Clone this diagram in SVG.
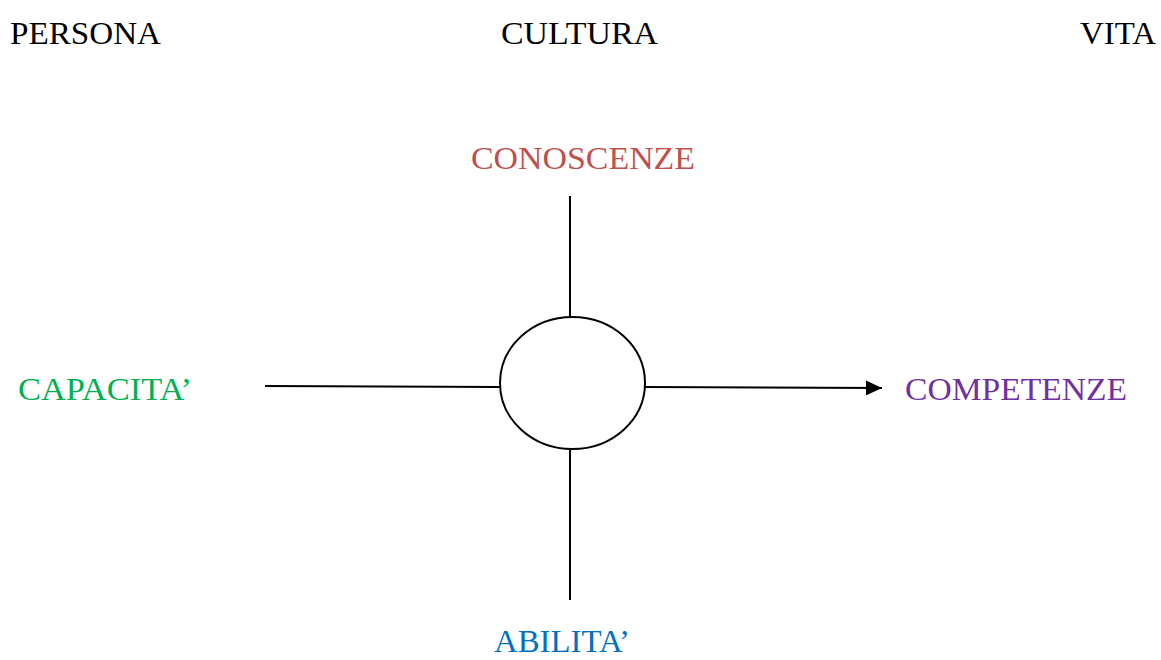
<svg xmlns="http://www.w3.org/2000/svg" width="1161" height="660" viewBox="0 0 1161 660">
<style>
text{font-family:"Liberation Serif","Times New Roman",serif;font-size:32px}
.ln{stroke:#000;stroke-width:2;fill:none}
</style>
<defs>
<marker id="ah" markerWidth="16" markerHeight="15" refX="16" refY="7.5" orient="auto" markerUnits="userSpaceOnUse" viewBox="0 0 16 15">
<path d="M0,0 L16,7.5 L0,15 Z" fill="#000"/>
</marker>
</defs>
<rect width="1161" height="660" fill="#fff"/>
<g id="persona"><text x="10" y="44" textLength="151" lengthAdjust="spacingAndGlyphs">PERSONA</text></g>
<g id="cultura"><text x="501" y="44" textLength="157" lengthAdjust="spacingAndGlyphs">CULTURA</text></g>
<g id="vita"><text x="1080" y="44" textLength="76" lengthAdjust="spacingAndGlyphs">VITA</text></g>
<g id="conoscenze"><text x="471" y="169" fill="#c0504d" textLength="224" lengthAdjust="spacingAndGlyphs">CONOSCENZE</text></g>
<g id="capacita"><text x="18" y="400" fill="#00b050" textLength="174" lengthAdjust="spacingAndGlyphs">CAPACITA’</text></g>
<g id="competenze"><text x="905" y="400" fill="#7030a0" textLength="222" lengthAdjust="spacingAndGlyphs">COMPETENZE</text></g>
<g id="abilita"><text x="494" y="652" fill="#0070c0" textLength="136" lengthAdjust="spacingAndGlyphs">ABILITA’</text></g>
<g id="center"><ellipse cx="572.5" cy="383" rx="72.5" ry="66" class="ln"/></g>
<g id="connectors">
<line x1="570" y1="196" x2="570" y2="317" class="ln"/>
<line x1="570" y1="450" x2="570" y2="600" class="ln"/>
<line x1="265" y1="386" x2="500" y2="387" class="ln"/>
<line x1="645" y1="387" x2="882" y2="388" class="ln" marker-end="url(#ah)"/>
</g>
</svg>
